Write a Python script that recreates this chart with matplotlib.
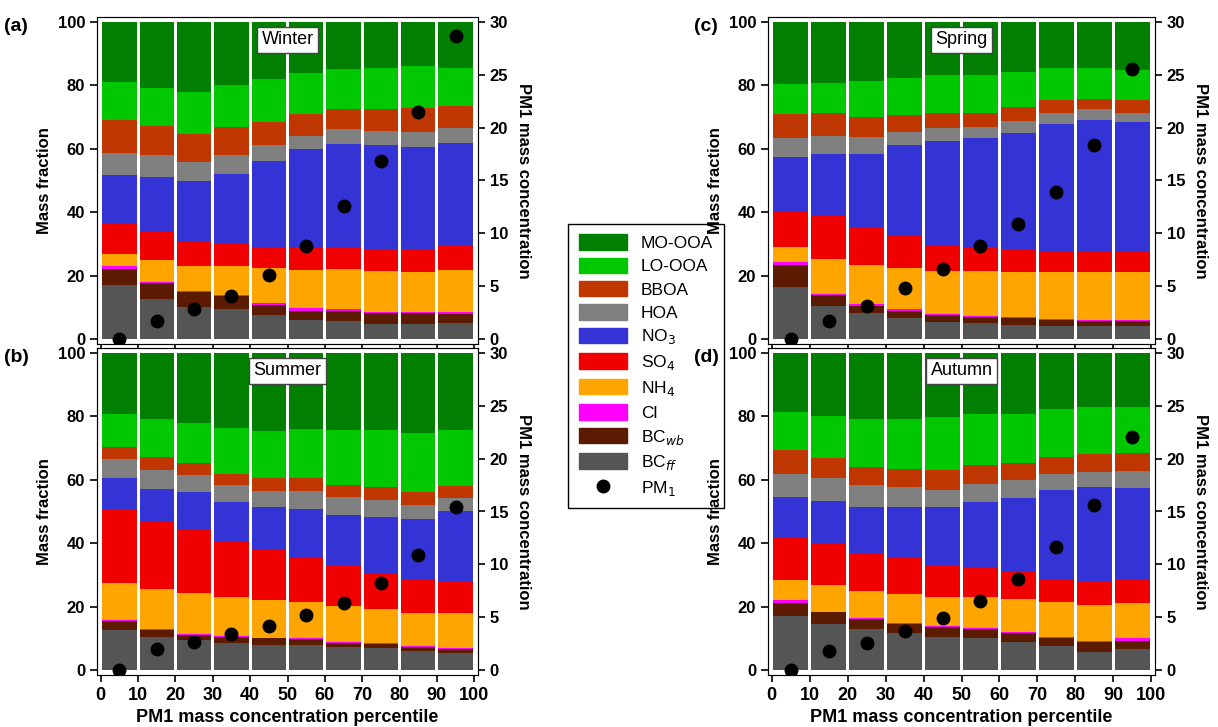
import numpy as np
import matplotlib.pyplot as plt
from matplotlib.lines import Line2D
from matplotlib.patches import Patch

plt.rcParams['font.family'] = ['Liberation Sans', 'DejaVu Sans']

percentile = [5, 15, 25, 35, 45, 55, 65, 75, 85, 95]
species = ['BC$_{ff}$', 'BC$_{wb}$', 'Cl', 'NH$_4$', 'SO$_4$', 'NO$_3$', 'HOA', 'BBOA', 'LO-OOA', 'MO-OOA']
colors = ['#555555', '#5c1a00', '#ff00ff', '#ffa500', '#f00000', '#3333d6', '#7f7f7f', '#c03600', '#00c800', '#007f00']

# cumulative tops (%) of each species, bottom to top (MO-OOA reaches 100)
winter = [
    [17.2, 22.1, 23.0, 26.8, 36.5, 51.8, 58.8, 69.0, 81.0],
    [12.8, 17.6, 17.9, 24.9, 33.7, 51.2, 57.9, 67.2, 79.1],
    [10.3, 14.8, 15.1, 23.1, 31.1, 49.9, 55.7, 64.8, 78.0],
    [9.5, 13.5, 14.0, 23.1, 30.3, 52.0, 57.9, 66.7, 80.1],
    [7.6, 10.9, 11.5, 22.4, 29.0, 56.1, 61.1, 68.4, 81.9],
    [6.0, 9.0, 9.8, 21.7, 28.6, 59.8, 64.1, 71.0, 83.8],
    [5.6, 8.8, 9.4, 22.0, 29.0, 61.6, 66.1, 72.6, 85.0],
    [4.8, 8.2, 8.7, 21.5, 28.4, 61.3, 65.6, 72.6, 85.3],
    [4.8, 8.2, 8.7, 21.3, 28.4, 60.4, 65.3, 72.8, 86.0],
    [5.0, 8.1, 8.6, 21.8, 29.6, 61.9, 66.6, 73.4, 85.5],
]
summer = [
    [12.8, 15.6, 15.8, 27.5, 50.7, 60.4, 66.4, 70.4, 80.6],
    [10.4, 12.6, 12.9, 25.5, 46.7, 57.0, 63.2, 67.2, 79.0],
    [9.5, 11.1, 11.3, 24.3, 44.5, 56.1, 61.6, 65.4, 77.8],
    [8.7, 10.4, 10.8, 23.0, 40.5, 53.0, 58.2, 61.8, 76.3],
    [8.1, 10.0, 10.3, 22.2, 38.0, 51.3, 56.5, 60.6, 75.5],
    [7.9, 9.7, 10.0, 21.5, 35.5, 50.7, 56.4, 60.6, 76.0],
    [7.2, 8.6, 9.0, 20.3, 33.0, 48.9, 54.5, 58.3, 75.7],
    [6.9, 8.2, 8.5, 19.4, 30.3, 48.2, 53.5, 57.8, 75.7],
    [6.1, 7.2, 7.6, 18.1, 28.4, 47.5, 51.9, 56.0, 74.7],
    [5.3, 6.7, 7.0, 18.1, 28.0, 50.1, 54.2, 58.1, 75.8],
]
spring = [
    [16.3, 23.3, 24.2, 29.0, 40.4, 57.5, 63.3, 71.0, 80.5],
    [10.6, 14.0, 14.3, 25.3, 39.2, 58.3, 64.1, 71.4, 80.8],
    [8.2, 10.6, 11.1, 23.4, 35.0, 58.3, 63.6, 69.9, 81.3],
    [6.7, 8.9, 9.4, 22.4, 32.8, 61.1, 65.4, 70.7, 82.3],
    [5.3, 7.7, 8.0, 21.5, 29.5, 62.4, 66.5, 71.4, 83.3],
    [5.0, 7.0, 7.3, 21.5, 29.1, 63.3, 67.0, 71.4, 83.3],
    [4.6, 6.6, 7.0, 21.1, 28.4, 64.9, 68.6, 73.0, 84.2],
    [4.3, 6.1, 6.4, 21.1, 27.6, 67.9, 71.4, 75.2, 85.4],
    [4.3, 5.9, 6.2, 21.1, 27.6, 69.2, 72.6, 75.7, 85.4],
    [4.3, 5.9, 6.1, 21.2, 27.8, 68.3, 71.4, 75.2, 84.9],
]
autumn = [
    [17.2, 21.2, 22.0, 28.4, 41.5, 54.5, 61.7, 69.4, 81.3],
    [14.7, 18.2, 18.5, 26.8, 39.7, 53.4, 60.4, 66.9, 80.0],
    [12.9, 16.0, 16.3, 25.0, 36.8, 51.3, 58.2, 64.1, 79.0],
    [11.6, 14.7, 15.0, 24.0, 35.2, 51.3, 57.6, 63.5, 79.0],
    [10.4, 13.5, 13.8, 23.1, 33.3, 51.3, 56.9, 63.2, 79.7],
    [10.1, 13.0, 13.3, 23.1, 32.5, 52.9, 58.8, 64.8, 80.6],
    [8.8, 11.6, 12.0, 22.5, 30.9, 54.2, 59.8, 65.4, 80.6],
    [7.5, 10.1, 10.6, 21.6, 28.4, 56.7, 61.7, 67.3, 82.2],
    [5.9, 8.8, 9.1, 20.6, 28.1, 57.6, 62.3, 68.1, 82.9],
    [6.7, 9.3, 10.1, 21.3, 28.8, 57.4, 62.6, 68.4, 82.9],
]
pm1_winter = [0, 1.7, 2.9, 4.1, 6.1, 8.8, 12.6, 16.8, 21.5, 28.7]
pm1_summer = [0, 2.0, 2.7, 3.4, 4.2, 5.2, 6.4, 8.2, 10.9, 15.4]
pm1_spring = [0, 1.7, 3.1, 4.8, 6.6, 8.8, 10.9, 13.9, 18.4, 25.5]
pm1_autumn = [0, 1.8, 2.6, 3.7, 4.9, 6.5, 8.6, 11.6, 15.6, 22.0]

W, H = 1218, 727
fig = plt.figure(figsize=(W / 100, H / 100), dpi=100)

panels = [
    ('(a)', 'Winter', winter, pm1_winter, (97, 17, 381, 327), False, -0.245),
    ('(b)', 'Summer', summer, pm1_summer, (97, 348, 381, 327), True, -0.245),
    ('(c)', 'Spring', spring, pm1_spring, (768, 17, 387, 327), False, -0.19),
    ('(d)', 'Autumn', autumn, pm1_autumn, (768, 348, 387, 327), True, -0.19),
]

for tag, season, tops, pm1, (x0, y0, w, h), bottom_axis, tag_x in panels:
    ax = fig.add_axes([x0 / W, 1 - (y0 + h) / H, w / W, h / H])
    tops = np.array([list(t) + [100] for t in tops])
    prev = np.zeros(len(percentile))
    for k in range(len(species)):
        ax.bar(percentile, tops[:, k] - prev, bottom=prev, width=9.2,
               color=colors[k], edgecolor='none')
        prev = tops[:, k]
    ax.set_xlim(-1, 101)
    ax.set_ylim(-1.5, 101.5)
    ax.set_yticks(range(0, 101, 20))
    ax.set_xticks(range(0, 101, 10))
    ax.tick_params(labelsize=12, width=1.2, length=5)
    for lab in ax.get_yticklabels():
        lab.set_fontweight('bold')
    if bottom_axis:
        ax.set_xlabel('PM1 mass concentration percentile', fontsize=13, fontweight='bold')
        for lab in ax.get_xticklabels():
            lab.set_fontweight('bold')
        ax.tick_params(axis='x', labelsize=13)
    else:
        ax.set_xticklabels([])
    ax.set_ylabel('Mass fraction', fontsize=12, fontweight='bold')
    for s in ax.spines.values():
        s.set_color('#555555')
    ax.text(0.5, 0.93, season, transform=ax.transAxes, ha='center', va='center',
            fontsize=13, bbox=dict(boxstyle='square,pad=0.25', fc='white', ec='#444444'))
    ax.text(tag_x, 0.97, tag, transform=ax.transAxes, ha='left', va='center',
            fontsize=14, fontweight='bold')

    ax2 = ax.twinx()
    ax2.plot(percentile, pm1, 'o', color='black', markersize=9)
    ax2.set_ylim(-0.45, 30.45)
    ax2.set_yticks(range(0, 31, 5))
    ax2.tick_params(labelsize=12, width=1.2, length=5)
    for lab in ax2.get_yticklabels():
        lab.set_fontweight('bold')
    ax2.set_ylabel('PM1 mass concentration', fontsize=12, fontweight='bold',
                   rotation=270, labelpad=16)

handles = [Patch(color=c, label=s) for s, c in zip(species[::-1], colors[::-1])]
handles.append(Line2D([], [], marker='o', color='black', linestyle='none',
                      markersize=9, label='PM$_1$'))
leg = fig.legend(handles=handles, loc='center', bbox_to_anchor=(646 / W, 1 - 366 / H),
                 fontsize=12.5, frameon=True, edgecolor='black', fancybox=False,
                 framealpha=1, handlelength=2.8, handleheight=1.0, labelspacing=0.38,
                 borderpad=0.6, handletextpad=0.8, borderaxespad=0.3)
leg.set_zorder(-1)

fig.savefig('out.png', dpi=100)
